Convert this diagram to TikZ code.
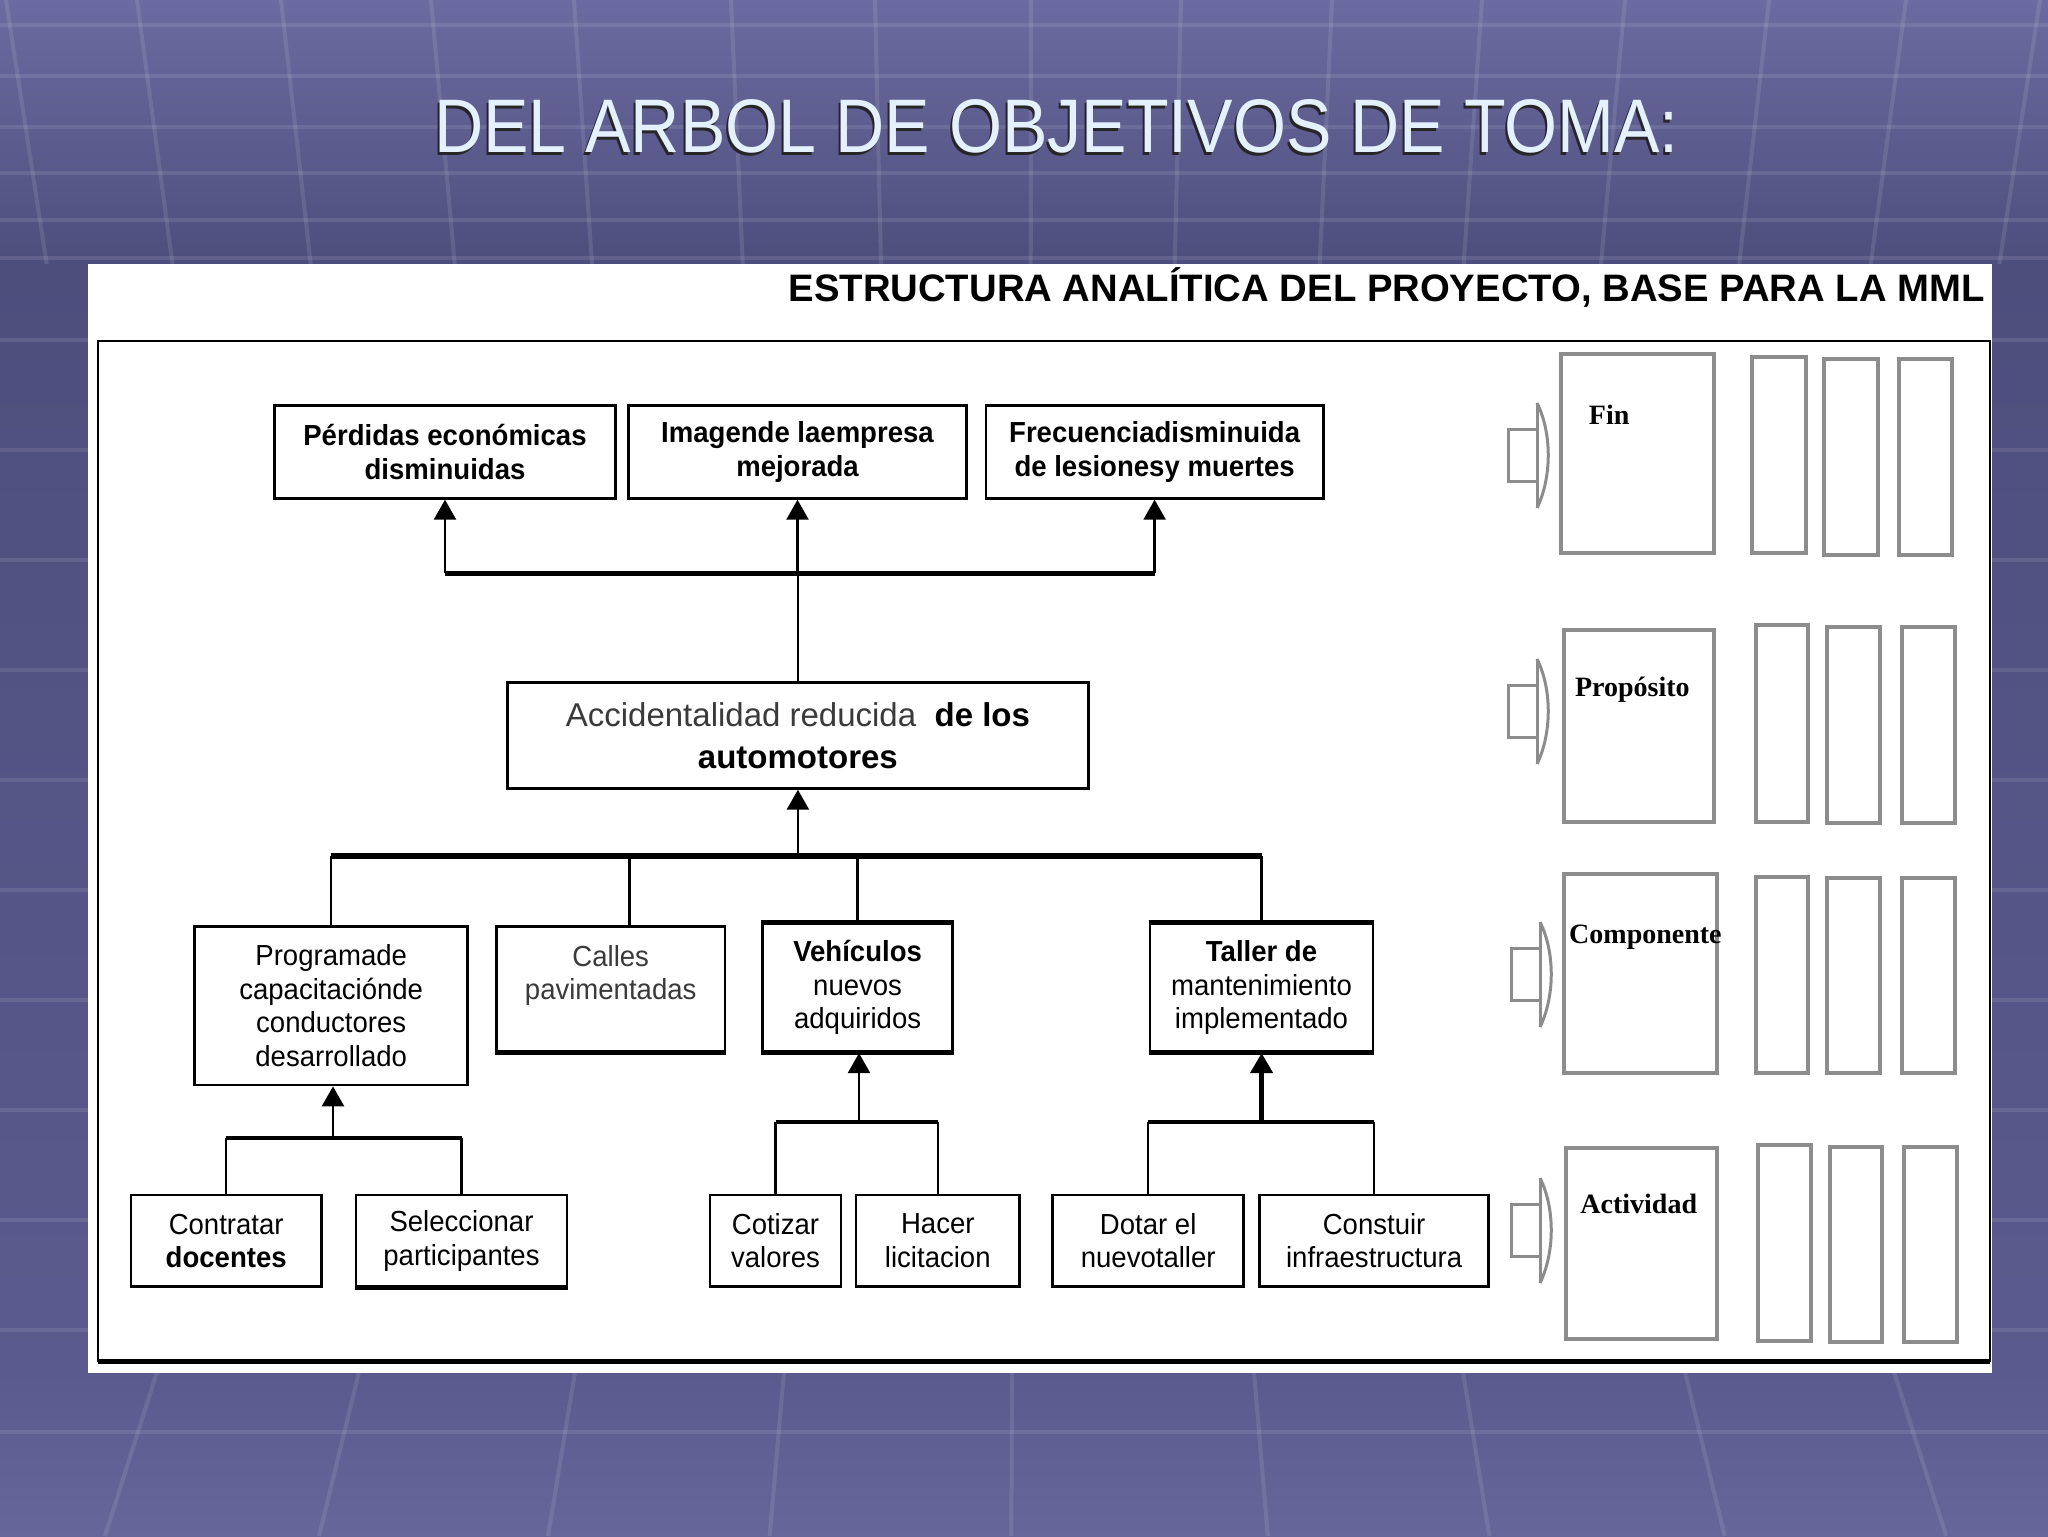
\documentclass[tikz,border=0pt]{standalone}
\usepackage{fontspec}
\usepackage{graphicx}
\setmainfont{Liberation Sans}
\newfontfamily\condf[FakeStretch=0.95]{Liberation Sans}
\newfontfamily\serifbf{Liberation Serif}
\usetikzlibrary{arrows.meta}
\definecolor{bgA}{HTML}{6B6BA1}
\definecolor{bgB}{HTML}{4E4E7D}
\definecolor{bgC}{HTML}{5A5A8E}
\definecolor{bgD}{HTML}{66669B}
\definecolor{titlecol}{HTML}{E4F0FE}
\definecolor{boxgray}{HTML}{8C8C8C}
\definecolor{txtgray}{HTML}{3A3A3A}
\newcommand\boxf{\condf\fontsize{14.5}{16.75}\selectfont}
\newcommand\accf{\fontsize{16.5}{21}\selectfont}
\newcommand\blkarrow[2]{%
  \draw[garrow] (#1+29,#2-26) -- (#1,#2-26) -- (#1,#2+26) -- (#1+29,#2+26);
  \draw[garrow] (#1+29,#2-52) -- (#1+29,#2+53);
  \draw[garrow] (#1+29,#2-52) .. controls (#1+44,#2-22) and (#1+44,#2+22) .. (#1+29,#2+53);
}
\begin{document}
\begin{tikzpicture}[x=0.5pt,y=-0.5pt,
  box/.style={draw=black, line width=1.4pt, fill=white, inner sep=0pt, align=center, font=\boxf},
  topbox/.style={box, font=\boxf\bfseries},
  sz/.style 2 args={minimum width=#1*0.5pt, minimum height=#2*0.5pt},
  conn/.style={line width=1.25pt},
  bar/.style={line width=2.6pt},
  sbar/.style={line width=2pt},
  arr/.style={conn, -{Triangle[length=10pt,width=11pt]}},
  gbox/.style={draw=boxgray, line width=2pt},
  garrow/.style={draw=boxgray, line width=1.5pt, line join=miter},
  lbl/.style={font=\serifbf\bfseries\fontsize{14}{16}\selectfont, inner sep=0pt, anchor=base west}]
\useasboundingbox (0,0) rectangle (2048,1536);
% background
\shade[top color=bgA, bottom color=bgB] (0,0) rectangle (2048,264);
\shade[top color=bgB, bottom color=bgC] (0,264) rectangle (2048,1372);
\shade[top color=bgC, bottom color=bgD] (0,1372) rectangle (2048,1536);
\begin{scope}[draw=white, draw opacity=0.10, line width=2pt]
  \foreach \y in {25,76,127,173,220,258} \draw (0,\y) -- (2048,\y);
  \foreach \x in {6,137,281,431,574,731,875,1031,1181,1332,1482,1625,1769,1906,2040}
    \draw (\x,0) -- ({\x+(1024-\x)*0.04},264);
  \foreach \y in {340,450,560,670,780,890,1000,1110,1220,1330} \draw (0,\y) -- (2048,\y);
  \draw (0,1432) -- (2048,1432);
  \foreach \x in {157,359,575,784,1012,1254,1463,1685,1894}
    \draw (\x,1372) -- ({1024+(\x-1024)*1.06},1536);
\end{scope}
% title
\node[anchor=base west, inner sep=0pt, text=black!85] (titleshadow) at (431.6,155.8)
  {\resizebox{622.3pt}{26.5pt}{\fontsize{30}{36}\selectfont DEL ARBOL DE OBJETIVOS DE TOMA:}};
\node[anchor=base west, inner sep=0pt, text=titlecol] (title) at (433.6,152.8)
  {\resizebox{622.3pt}{26.5pt}{\fontsize{30}{36}\selectfont DEL ARBOL DE OBJETIVOS DE TOMA:}};
% panel
\fill[white] (87.5,263.8) rectangle (1991.6,1372.6);
\node[anchor=base east, inner sep=0pt] (hdr) at (1985,301.7)
  {\resizebox{598pt}{!}{\fontsize{19}{22}\selectfont\bfseries ESTRUCTURA ANALÍTICA DEL PROYECTO, BASE PARA LA MML}};
\draw[line width=1.3pt] (98,341) rectangle (1990,1361);
\draw[line width=2.5pt] (98,1361) -- (1990,1361);
% top boxes
\node[topbox, sz={341}{92.6}] (p1) at (445,452) {Pérdidas económicas\\disminuidas};
\node[topbox, sz={337.4}{92.6}] (p2) at (797.5,452) {Imagende laempresa\\mejorada};
\node[topbox, sz={337.4}{92.6}] (p3) at (1154.6,452) {Frecuenciadisminuida\\de lesionesy muertes};
% central
\node[box, sz={580.8}{105.6}, font=\accf] (acc) at (797.9,735.5)
  {\textcolor{txtgray}{Accidentalidad reducida}\ \ \textbf{de los}\\\textbf{automotores}};
% components
\node[box, sz={273.3}{158.3}] (pro) at (331.2,1005.8) {Programade\\capacitaciónde\\conductores\\desarrollado};
\node[box, sz={228.6}{125}, text=txtgray] (cal) at (610.7,989.2) {Calles\\pavimentadas\\\mbox{}};
\node[box, sz={190.2}{128.4}] (veh) at (857.6,987.5) {\textbf{Vehículos}\\nuevos\\adquiridos};
\node[box, sz={223}{128.4}] (tal) at (1261.5,987.5) {\textbf{Taller de}\\mantenimiento\\implementado};
% activities
\node[box, sz={190.4}{91.7}] (con) at (226.2,1240.8) {Contratar\\\textbf{docentes}};
\node[box, sz={211}{91.7}] (sel) at (461.5,1240.8) {Seleccionar\\participantes};
\node[box, sz={131}{91.7}] (cot) at (775.5,1240.8) {Cotizar\\valores};
\node[box, sz={163.6}{91.7}] (hac) at (937.8,1240.8) {Hacer\\licitacion};
\node[box, sz={191.1}{91.7}] (dot) at (1148.2,1240.8) {Dotar el\\nuevotaller};
\node[box, sz={228.6}{91.7}] (cons) at (1374.1,1240.8) {Constuir\\infraestructura};
% thick edges
\draw[line width=2.2pt] (cal.south west) -- (cal.south east);
\draw[line width=2.2pt] (veh.north west) -- (veh.north east);
\draw[line width=2.2pt] (veh.south west) -- (veh.south east);
\draw[line width=1.8pt] (tal.north west) -- (tal.north east);
\draw[line width=2.2pt] (tal.south west) -- (tal.south east);
\draw[line width=2.2pt] (sel.south west) -- (sel.south east);
% connectors top
\coordinate (jt) at (797.9,573.3);
\draw[conn] (acc.north) -- (acc.north |- jt);
\draw[bar] (p1.south |- jt) -- (p3.south |- jt);
\draw[arr] (p1.south |- jt) -- (p1.south);
\draw[arr] (p2.south |- jt) -- (p2.south);
\draw[arr] (p3.south |- jt) -- (p3.south);
% connectors middle
\coordinate (jb) at (797.9,856);
\coordinate (calx) at (629.5,856);
\draw[arr] (jb) -- (acc.south);
\draw[bar] (pro.north |- jb) -- (tal.north |- jb);
\draw[conn] (pro.north |- jb) -- (pro.north);
\draw[conn] (calx) -- (calx |- cal.north);
\draw[conn] (veh.north |- jb) -- (veh.north);
\draw[conn] (tal.north |- jb) -- (tal.north);
% connectors bottom
\coordinate (jp) at (333,1138);
\draw[arr] (jp) -- (jp |- pro.south);
\draw[sbar] (con.north |- jp) -- (sel.north |- jp);
\draw[conn] (con.north |- jp) -- (con.north);
\draw[conn] (sel.north |- jp) -- (sel.north);
\coordinate (jv) at (859,1121.7);
\draw[arr] (jv) -- (jv |- veh.south);
\draw[sbar] (cot.north |- jv) -- (hac.north |- jv);
\draw[conn] (cot.north |- jv) -- (cot.north);
\draw[conn] (hac.north |- jv) -- (hac.north);
\coordinate (jw) at (1261.6,1121.7);
\draw[arr, line width=2.2pt] (jw) -- (jw |- tal.south);
\draw[sbar] (dot.north |- jw) -- (cons.north |- jw);
\draw[conn] (dot.north |- jw) -- (dot.north);
\draw[conn] (cons.north |- jw) -- (cons.north);
% right column
\blkarrow{1508}{455}
\blkarrow{1508}{711}
\blkarrow{1511}{974}
\blkarrow{1511}{1230}
\draw[gbox] (1561.3,354) rectangle (1714.2,553.3);
\draw[gbox] (1563.7,630) rectangle (1714,821.7);
\draw[gbox] (1564.4,874) rectangle (1717,1073.3);
\draw[gbox] (1566,1148.3) rectangle (1717,1339.3);
\node[lbl] (fin) at (1588.5,424) {Fin};
\node[lbl] (prop) at (1574.7,696.7) {Propósito};
\node[lbl] (comp) at (1568.8,943.3) {Componente};
\node[lbl] (act) at (1580,1213) {Actividad};
\draw[gbox] (1752,357) rectangle (1805.8,553);
\draw[gbox] (1824.4,359) rectangle (1877.7,555);
\draw[gbox] (1899,359) rectangle (1951.8,555);
\draw[gbox] (1755.5,625) rectangle (1807.8,821.7);
\draw[gbox] (1826.8,627) rectangle (1879.5,823);
\draw[gbox] (1901.5,627) rectangle (1954.5,823);
\draw[gbox] (1756,876.7) rectangle (1807.8,1073.3);
\draw[gbox] (1827,878) rectangle (1879.5,1073.3);
\draw[gbox] (1901.5,878) rectangle (1954.5,1073.3);
\draw[gbox] (1758,1145) rectangle (1810.6,1340.7);
\draw[gbox] (1829.5,1147) rectangle (1882,1341.7);
\draw[gbox] (1904,1147) rectangle (1957,1341.7);
\end{tikzpicture}
\end{document}
